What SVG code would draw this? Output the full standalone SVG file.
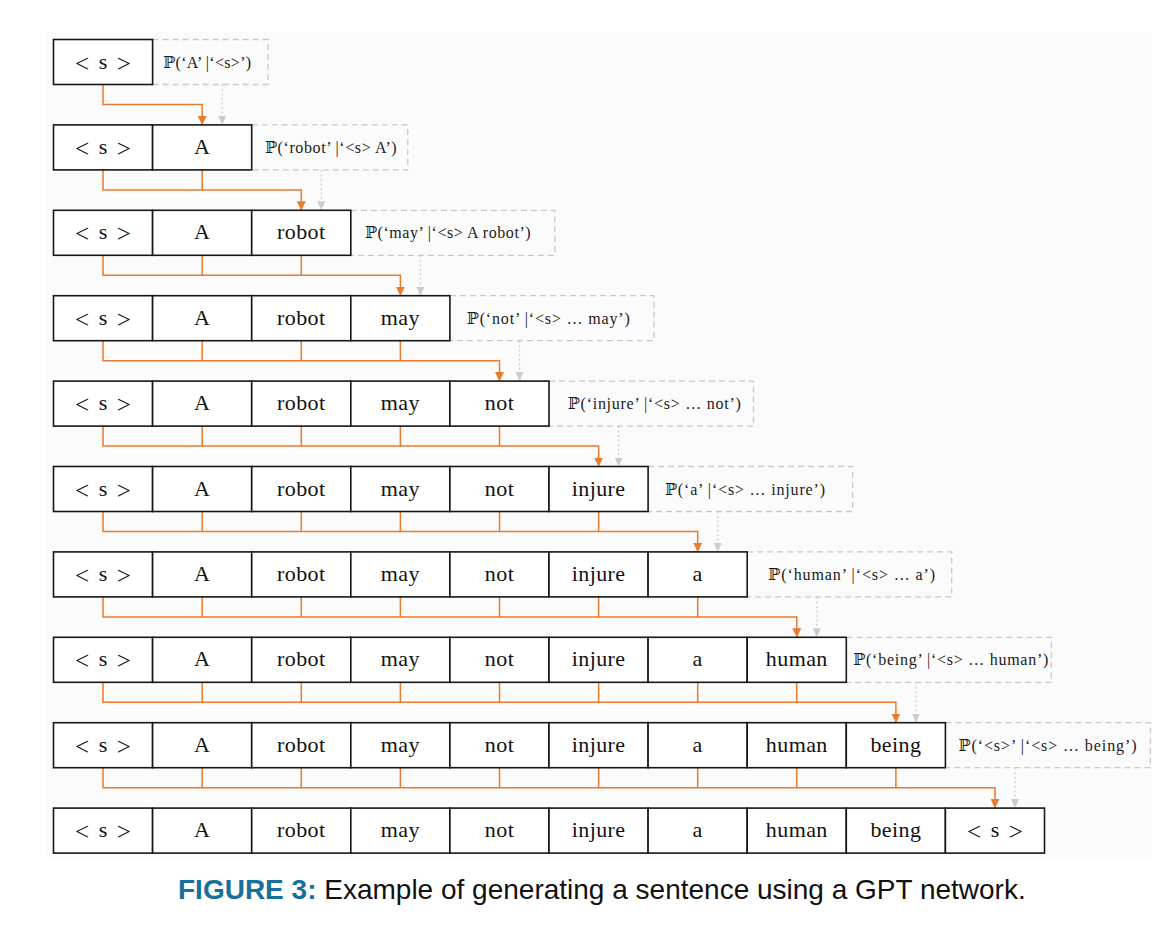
<svg xmlns="http://www.w3.org/2000/svg" width="1176" height="944" viewBox="0 0 1176 944">
<style>
.cell{fill:#ffffff;stroke:#161616;stroke-width:1.6}
.tok{font-family:"Liberation Serif","DejaVu Serif",serif;font-size:22px;letter-spacing:0.4px;fill:#111;text-anchor:middle}
.sos{word-spacing:4px;letter-spacing:0}
.br{font-size:25px;baseline-shift:-2.5px}
.lbox{fill:none;stroke:#c9c9c9;stroke-width:1.3;stroke-dasharray:6 4}
.lab{font-family:"Liberation Serif","DejaVu Serif",serif;font-size:16px;fill:#1a1a1a;text-anchor:middle}
.oc{fill:none;stroke:#e87b2c;stroke-width:1.5}
.gc{fill:none;stroke:#cfcfcf;stroke-width:1.3;stroke-dasharray:2 2.5}
.cap{font-family:"Liberation Sans",Arial,sans-serif;font-size:28px;fill:#111}
.capb{font-weight:bold;fill:#17709a}
</style>
<defs>
<marker id="ao" markerUnits="userSpaceOnUse" markerWidth="9" markerHeight="9" viewBox="0 0 9 9" refX="9" refY="4.5" orient="auto"><path d="M0,0 L9,4.5 L0,9 z" fill="#e87b2c"/></marker>
<marker id="ag" markerUnits="userSpaceOnUse" markerWidth="9" markerHeight="9" viewBox="0 0 9 9" refX="9" refY="4.5" orient="auto"><path d="M0,0.5 L9,4.5 L0,8.5 z" fill="#cccccc"/></marker>
</defs>
<rect x="0" y="0" width="1176" height="944" fill="#ffffff"/>
<rect x="47" y="32" width="1105" height="825" fill="#fbfbfb"/>

<g id="connectors">
<path class="oc" d="M103 84.5V104.5H202.2V124.9" marker-end="url(#ao)"/>
<path class="gc" d="M222.2 84.5V124.9" marker-end="url(#ag)"/>

<path class="oc" d="M103 169.9V189.9H301.3V210.3" marker-end="url(#ao)"/>
<path class="oc" d="M202.2 169.9V189.9"/>
<path class="gc" d="M321.3 169.9V210.3" marker-end="url(#ag)"/>

<path class="oc" d="M103 255.3V275.3H400.4V295.7" marker-end="url(#ao)"/>
<path class="oc" d="M202.2 255.3V275.3M301.3 255.3V275.3"/>
<path class="gc" d="M420.4 255.3V295.7" marker-end="url(#ag)"/>

<path class="oc" d="M103 340.7V360.7H499.5V381.1" marker-end="url(#ao)"/>
<path class="oc" d="M202.2 340.7V360.7M301.3 340.7V360.7M400.4 340.7V360.7"/>
<path class="gc" d="M519.5 340.7V381.1" marker-end="url(#ag)"/>

<path class="oc" d="M103 426.1V446.1H598.6V466.5" marker-end="url(#ao)"/>
<path class="oc" d="M202.2 426.1V446.1M301.3 426.1V446.1M400.4 426.1V446.1M499.5 426.1V446.1"/>
<path class="gc" d="M618.6 426.1V466.5" marker-end="url(#ag)"/>

<path class="oc" d="M103 511.5V531.5H697.7V551.9" marker-end="url(#ao)"/>
<path class="oc" d="M202.2 511.5V531.5M301.3 511.5V531.5M400.4 511.5V531.5M499.5 511.5V531.5M598.6 511.5V531.5"/>
<path class="gc" d="M717.7 511.5V551.9" marker-end="url(#ag)"/>

<path class="oc" d="M103 596.9V616.9H796.8V637.3" marker-end="url(#ao)"/>
<path class="oc" d="M202.2 596.9V616.9M301.3 596.9V616.9M400.4 596.9V616.9M499.5 596.9V616.9M598.6 596.9V616.9M697.7 596.9V616.9"/>
<path class="gc" d="M816.8 596.9V637.3" marker-end="url(#ag)"/>

<path class="oc" d="M103 682.3V702.3H895.9V722.7" marker-end="url(#ao)"/>
<path class="oc" d="M202.2 682.3V702.3M301.3 682.3V702.3M400.4 682.3V702.3M499.5 682.3V702.3M598.6 682.3V702.3M697.7 682.3V702.3M796.8 682.3V702.3"/>
<path class="gc" d="M915.9 682.3V722.7" marker-end="url(#ag)"/>

<path class="oc" d="M103 767.7V787.7H995V808.1" marker-end="url(#ao)"/>
<path class="oc" d="M202.2 767.7V787.7M301.3 767.7V787.7M400.4 767.7V787.7M499.5 767.7V787.7M598.6 767.7V787.7M697.7 767.7V787.7M796.8 767.7V787.7M895.9 767.7V787.7"/>
<path class="gc" d="M1015 767.7V808.1" marker-end="url(#ag)"/>
</g>

<!-- Row 0 -->
<g id="row0">
<g id="p0"><path class="lbox" d="M152.6 39.5H268.1V84.5H152.6"/><text class="lab" x="207.2" y="67.5" textLength="88" lengthAdjust="spacing">ℙ(‘A’ |‘&lt;s&gt;’)</text></g>
<g id="r0c0"><rect class="cell" x="53.5" y="39.5" width="99.1" height="45"/><text class="tok sos" x="103" y="68.5"><tspan class="br">&lt;</tspan> s <tspan class="br">&gt;</tspan></text></g>
</g>

<!-- Row 1 -->
<g id="row1">
<g id="p1"><path class="lbox" d="M251.7 124.9H407.7V169.9H251.7"/><text class="lab" x="330.8" y="152.9" textLength="131.7" lengthAdjust="spacing">ℙ(‘robot’ |‘&lt;s&gt; A’)</text></g>
<g id="r1c0"><rect class="cell" x="53.5" y="124.9" width="99.1" height="45"/><text class="tok sos" x="103" y="153.9"><tspan class="br">&lt;</tspan> s <tspan class="br">&gt;</tspan></text></g>
<g id="r1c1"><rect class="cell" x="152.6" y="124.9" width="99.1" height="45"/><text class="tok" x="202.2" y="153.9">A</text></g>
</g>

<!-- Row 2 -->
<g id="row2">
<g id="p2"><path class="lbox" d="M350.8 210.3H554.8V255.3H350.8"/><text class="lab" x="447.8" y="238.3" textLength="165.7" lengthAdjust="spacing">ℙ(‘may’ |‘&lt;s&gt; A robot’)</text></g>
<g id="r2c0"><rect class="cell" x="53.5" y="210.3" width="99.1" height="45"/><text class="tok sos" x="103" y="239.3"><tspan class="br">&lt;</tspan> s <tspan class="br">&gt;</tspan></text></g>
<g id="r2c1"><rect class="cell" x="152.6" y="210.3" width="99.1" height="45"/><text class="tok" x="202.2" y="239.3">A</text></g>
<g id="r2c2"><rect class="cell" x="251.7" y="210.3" width="99.1" height="45"/><text class="tok" x="301.3" y="239.3">robot</text></g>
</g>

<!-- Row 3 -->
<g id="row3">
<g id="p3"><path class="lbox" d="M449.9 295.7H653.9V340.7H449.9"/><text class="lab" x="548.3" y="323.7" textLength="163" lengthAdjust="spacing">ℙ(‘not’ |‘&lt;s&gt; … may’)</text></g>
<g id="r3c0"><rect class="cell" x="53.5" y="295.7" width="99.1" height="45"/><text class="tok sos" x="103" y="324.7"><tspan class="br">&lt;</tspan> s <tspan class="br">&gt;</tspan></text></g>
<g id="r3c1"><rect class="cell" x="152.6" y="295.7" width="99.1" height="45"/><text class="tok" x="202.2" y="324.7">A</text></g>
<g id="r3c2"><rect class="cell" x="251.7" y="295.7" width="99.1" height="45"/><text class="tok" x="301.3" y="324.7">robot</text></g>
<g id="r3c3"><rect class="cell" x="350.8" y="295.7" width="99.1" height="45"/><text class="tok" x="400.4" y="324.7">may</text></g>
</g>

<!-- Row 4 -->
<g id="row4">
<g id="p4"><path class="lbox" d="M549 381.1H753.5V426.1H549"/><text class="lab" x="654.3" y="409.1" textLength="173" lengthAdjust="spacing">ℙ(‘injure’ |‘&lt;s&gt; … not’)</text></g>
<g id="r4c0"><rect class="cell" x="53.5" y="381.1" width="99.1" height="45"/><text class="tok sos" x="103" y="410.1"><tspan class="br">&lt;</tspan> s <tspan class="br">&gt;</tspan></text></g>
<g id="r4c1"><rect class="cell" x="152.6" y="381.1" width="99.1" height="45"/><text class="tok" x="202.2" y="410.1">A</text></g>
<g id="r4c2"><rect class="cell" x="251.7" y="381.1" width="99.1" height="45"/><text class="tok" x="301.3" y="410.1">robot</text></g>
<g id="r4c3"><rect class="cell" x="350.8" y="381.1" width="99.1" height="45"/><text class="tok" x="400.4" y="410.1">may</text></g>
<g id="r4c4"><rect class="cell" x="449.9" y="381.1" width="99.1" height="45"/><text class="tok" x="499.5" y="410.1">not</text></g>
</g>

<!-- Row 5 -->
<g id="row5">
<g id="p5"><path class="lbox" d="M648.1 466.5H852.6V511.5H648.1"/><text class="lab" x="745" y="494.5" textLength="160" lengthAdjust="spacing">ℙ(‘a’ |‘&lt;s&gt; … injure’)</text></g>
<g id="r5c0"><rect class="cell" x="53.5" y="466.5" width="99.1" height="45"/><text class="tok sos" x="103" y="495.5"><tspan class="br">&lt;</tspan> s <tspan class="br">&gt;</tspan></text></g>
<g id="r5c1"><rect class="cell" x="152.6" y="466.5" width="99.1" height="45"/><text class="tok" x="202.2" y="495.5">A</text></g>
<g id="r5c2"><rect class="cell" x="251.7" y="466.5" width="99.1" height="45"/><text class="tok" x="301.3" y="495.5">robot</text></g>
<g id="r5c3"><rect class="cell" x="350.8" y="466.5" width="99.1" height="45"/><text class="tok" x="400.4" y="495.5">may</text></g>
<g id="r5c4"><rect class="cell" x="449.9" y="466.5" width="99.1" height="45"/><text class="tok" x="499.5" y="495.5">not</text></g>
<g id="r5c5"><rect class="cell" x="549" y="466.5" width="99.1" height="45"/><text class="tok" x="598.6" y="495.5">injure</text></g>
</g>

<!-- Row 6 -->
<g id="row6">
<g id="p6"><path class="lbox" d="M747.2 551.9H951.7V596.9H747.2"/><text class="lab" x="851.7" y="579.9" textLength="166.7" lengthAdjust="spacing">ℙ(‘human’ |‘&lt;s&gt; … a’)</text></g>
<g id="r6c0"><rect class="cell" x="53.5" y="551.9" width="99.1" height="45"/><text class="tok sos" x="103" y="580.9"><tspan class="br">&lt;</tspan> s <tspan class="br">&gt;</tspan></text></g>
<g id="r6c1"><rect class="cell" x="152.6" y="551.9" width="99.1" height="45"/><text class="tok" x="202.2" y="580.9">A</text></g>
<g id="r6c2"><rect class="cell" x="251.7" y="551.9" width="99.1" height="45"/><text class="tok" x="301.3" y="580.9">robot</text></g>
<g id="r6c3"><rect class="cell" x="350.8" y="551.9" width="99.1" height="45"/><text class="tok" x="400.4" y="580.9">may</text></g>
<g id="r6c4"><rect class="cell" x="449.9" y="551.9" width="99.1" height="45"/><text class="tok" x="499.5" y="580.9">not</text></g>
<g id="r6c5"><rect class="cell" x="549" y="551.9" width="99.1" height="45"/><text class="tok" x="598.6" y="580.9">injure</text></g>
<g id="r6c6"><rect class="cell" x="648.1" y="551.9" width="99.1" height="45"/><text class="tok" x="697.7" y="580.9">a</text></g>
</g>

<!-- Row 7 -->
<g id="row7">
<g id="p7"><path class="lbox" d="M846.3 637.3H1051.3V682.3H846.3"/><text class="lab" x="950.8" y="665.3" textLength="195" lengthAdjust="spacing">ℙ(‘being’ |‘&lt;s&gt; … human’)</text></g>
<g id="r7c0"><rect class="cell" x="53.5" y="637.3" width="99.1" height="45"/><text class="tok sos" x="103" y="666.3"><tspan class="br">&lt;</tspan> s <tspan class="br">&gt;</tspan></text></g>
<g id="r7c1"><rect class="cell" x="152.6" y="637.3" width="99.1" height="45"/><text class="tok" x="202.2" y="666.3">A</text></g>
<g id="r7c2"><rect class="cell" x="251.7" y="637.3" width="99.1" height="45"/><text class="tok" x="301.3" y="666.3">robot</text></g>
<g id="r7c3"><rect class="cell" x="350.8" y="637.3" width="99.1" height="45"/><text class="tok" x="400.4" y="666.3">may</text></g>
<g id="r7c4"><rect class="cell" x="449.9" y="637.3" width="99.1" height="45"/><text class="tok" x="499.5" y="666.3">not</text></g>
<g id="r7c5"><rect class="cell" x="549" y="637.3" width="99.1" height="45"/><text class="tok" x="598.6" y="666.3">injure</text></g>
<g id="r7c6"><rect class="cell" x="648.1" y="637.3" width="99.1" height="45"/><text class="tok" x="697.7" y="666.3">a</text></g>
<g id="r7c7"><rect class="cell" x="747.2" y="637.3" width="99.1" height="45"/><text class="tok" x="796.8" y="666.3">human</text></g>
</g>

<!-- Row 8 -->
<g id="row8">
<g id="p8"><path class="lbox" d="M945.4 722.7H1150.4V767.7H945.4"/><text class="lab" x="1047.5" y="750.7" textLength="178" lengthAdjust="spacing">ℙ(‘&lt;s&gt;’ |‘&lt;s&gt; … being’)</text></g>
<g id="r8c0"><rect class="cell" x="53.5" y="722.7" width="99.1" height="45"/><text class="tok sos" x="103" y="751.7"><tspan class="br">&lt;</tspan> s <tspan class="br">&gt;</tspan></text></g>
<g id="r8c1"><rect class="cell" x="152.6" y="722.7" width="99.1" height="45"/><text class="tok" x="202.2" y="751.7">A</text></g>
<g id="r8c2"><rect class="cell" x="251.7" y="722.7" width="99.1" height="45"/><text class="tok" x="301.3" y="751.7">robot</text></g>
<g id="r8c3"><rect class="cell" x="350.8" y="722.7" width="99.1" height="45"/><text class="tok" x="400.4" y="751.7">may</text></g>
<g id="r8c4"><rect class="cell" x="449.9" y="722.7" width="99.1" height="45"/><text class="tok" x="499.5" y="751.7">not</text></g>
<g id="r8c5"><rect class="cell" x="549" y="722.7" width="99.1" height="45"/><text class="tok" x="598.6" y="751.7">injure</text></g>
<g id="r8c6"><rect class="cell" x="648.1" y="722.7" width="99.1" height="45"/><text class="tok" x="697.7" y="751.7">a</text></g>
<g id="r8c7"><rect class="cell" x="747.2" y="722.7" width="99.1" height="45"/><text class="tok" x="796.8" y="751.7">human</text></g>
<g id="r8c8"><rect class="cell" x="846.3" y="722.7" width="99.1" height="45"/><text class="tok" x="895.9" y="751.7">being</text></g>
</g>

<!-- Row 9 -->
<g id="row9">
<g id="r9c0"><rect class="cell" x="53.5" y="808.1" width="99.1" height="45"/><text class="tok sos" x="103" y="837.1"><tspan class="br">&lt;</tspan> s <tspan class="br">&gt;</tspan></text></g>
<g id="r9c1"><rect class="cell" x="152.6" y="808.1" width="99.1" height="45"/><text class="tok" x="202.2" y="837.1">A</text></g>
<g id="r9c2"><rect class="cell" x="251.7" y="808.1" width="99.1" height="45"/><text class="tok" x="301.3" y="837.1">robot</text></g>
<g id="r9c3"><rect class="cell" x="350.8" y="808.1" width="99.1" height="45"/><text class="tok" x="400.4" y="837.1">may</text></g>
<g id="r9c4"><rect class="cell" x="449.9" y="808.1" width="99.1" height="45"/><text class="tok" x="499.5" y="837.1">not</text></g>
<g id="r9c5"><rect class="cell" x="549" y="808.1" width="99.1" height="45"/><text class="tok" x="598.6" y="837.1">injure</text></g>
<g id="r9c6"><rect class="cell" x="648.1" y="808.1" width="99.1" height="45"/><text class="tok" x="697.7" y="837.1">a</text></g>
<g id="r9c7"><rect class="cell" x="747.2" y="808.1" width="99.1" height="45"/><text class="tok" x="796.8" y="837.1">human</text></g>
<g id="r9c8"><rect class="cell" x="846.3" y="808.1" width="99.1" height="45"/><text class="tok" x="895.9" y="837.1">being</text></g>
<g id="r9c9"><rect class="cell" x="945.4" y="808.1" width="99.1" height="45"/><text class="tok sos" x="995" y="837.1"><tspan class="br">&lt;</tspan> s <tspan class="br">&gt;</tspan></text></g>
</g>

<g id="caption">
<text class="cap" x="178" y="899"><tspan class="capb">FIGURE 3:</tspan> Example of generating a sentence using a GPT network.</text>
</g>
</svg>
